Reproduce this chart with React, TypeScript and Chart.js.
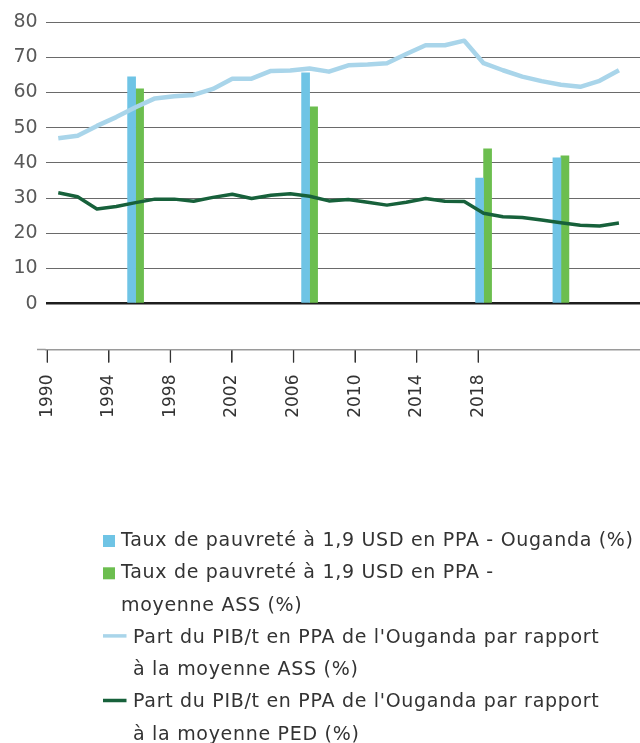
import React, { useEffect, useRef } from 'react';
import { Chart, registerables } from 'chart.js';

Chart.register(...registerables);

// ---------- data ----------
const years = [
  1990, 1991, 1992, 1993, 1994, 1995, 1996, 1997, 1998, 1999,
  2000, 2001, 2002, 2003, 2004, 2005, 2006, 2007, 2008, 2009,
  2010, 2011, 2012, 2013, 2014, 2015, 2016, 2017, 2018, 2019,
];
const pibShareAss = [
  47.0, 47.7, 50.5, 53.0, 55.8, 58.3, 58.9, 59.3, 61.0, 63.9,
  63.9, 66.1, 66.2, 66.8, 65.9, 67.7, 67.9, 68.3, 70.9, 73.4,
  73.4, 74.7, 68.3, 66.3, 64.5, 63.2, 62.2, 61.6, 63.3, 66.3,
];
const pibSharePed = [
  31.5, 30.4, 26.9, 27.6, 28.7, 29.7, 29.7, 29.1, 30.2, 31.1,
  29.9, 30.8, 31.2, 30.5, 29.2, 29.6, 28.8, 28.0, 28.8, 29.9,
  29.1, 29.0, 25.7, 24.7, 24.5, 23.8, 23.0, 22.3, 22.1, 22.9,
];
const barYears = [1994, 2003, 2012, 2016];
const povertyUganda = [64.4, 65.6, 35.7, 41.4];
const povertyAss = [61.0, 55.9, 44.0, 42.0];
const xTickYears = [1990, 1994, 1998, 2002, 2006, 2010, 2014, 2018];

const labelUganda = 'Taux de pauvreté à 1,9 USD en PPA - Ouganda (%)';
const labelAss = 'Taux de pauvreté à 1,9 USD en PPA - moyenne ASS (%)';
const labelPibAss = "Part du PIB/t en PPA de l'Ouganda par rapport à la moyenne ASS (%)";
const labelPibPed = "Part du PIB/t en PPA de l'Ouganda par rapport à la moyenne PED (%)";

const legendLines = [
  ['Taux de pauvreté à 1,9 USD en PPA - Ouganda (%)'],
  ['Taux de pauvreté à 1,9 USD en PPA -', 'moyenne ASS (%)'],
  ["Part du PIB/t en PPA de l'Ouganda par rapport", 'à la moyenne ASS (%)'],
  ["Part du PIB/t en PPA de l'Ouganda par rapport", 'à la moyenne PED (%)'],
];

// ---------- styles ----------
const W = 640;
const H = 743;
const FONT = "'DejaVu Sans', sans-serif";
const BLUE = '#6fc4e5';
const GREEN = '#6cbe4f';
const LIGHT_BLUE = '#a9d5ea';
const DARK_GREEN = '#17613b';
const TICK_LEN = 13;

const legendPlugin = {
  id: 'customLegend',
  afterDraw(chart: any) {
    const ctx = chart.ctx as any;
    const area = chart.chartArea;
    ctx.save();
    // extend bottom axis line slightly to the left
    ctx.strokeStyle = '#9a9a9a';
    ctx.lineWidth = 1.5;
    ctx.beginPath();
    ctx.moveTo(37, area.bottom);
    ctx.lineTo(area.left, area.bottom);
    ctx.stroke();

    // tick marks of the bottom year axis
    const xs = chart.scales.x2;
    if (xs) {
      ctx.strokeStyle = '#333333';
      ctx.lineWidth = 1.3;
      xs.ticks.forEach((t: any) => {
        const px = xs.getPixelForValue(t.value);
        ctx.beginPath();
        ctx.moveTo(px, area.bottom + 0.75);
        ctx.lineTo(px, area.bottom + TICK_LEN);
        ctx.stroke();
      });
    }

    // legend
    const startY = 541;
    const step = 32.3;
    ctx.font = `19px ${FONT}`;
    try { ctx.letterSpacing = '0.7px'; } catch (e) { /* ignore */ }
    ctx.textBaseline = 'middle';
    ctx.textAlign = 'left';
    let row = 0;
    chart.data.datasets.forEach((ds: any, i: number) => {
      const lines = legendLines[i];
      const cy = startY + row * step;
      const isLine = ds.type === 'line';
      if (isLine) {
        ctx.strokeStyle = ds.borderColor;
        ctx.lineWidth = 3.5;
        ctx.lineCap = 'butt';
        ctx.beginPath();
        ctx.moveTo(103, cy - 2);
        ctx.lineTo(126.5, cy - 2);
        ctx.stroke();
      } else {
        ctx.fillStyle = ds.backgroundColor;
        ctx.fillRect(103, cy - 6, 12, 12);
      }
      ctx.fillStyle = '#333333';
      const tx = isLine ? 133 : 121;
      lines.forEach((t: string, k: number) => {
        ctx.fillText(t, tx, startY + (row + k) * step);
      });
      row += lines.length;
    });
    ctx.restore();
  },
};

export default function App() {
  const ref = useRef<HTMLCanvasElement | null>(null);

  useEffect(() => {
    if (!ref.current) return;
    const chart = new Chart(ref.current, {
      type: 'bar',
      data: {
        datasets: [
          {
            type: 'bar',
            label: labelUganda,
            data: barYears.map((x, i) => ({ x, y: povertyUganda[i] })),
            backgroundColor: BLUE,
            barThickness: 8,
            xAxisID: 'x',
            yAxisID: 'y',
            order: 2,
          },
          {
            type: 'bar',
            label: labelAss,
            data: barYears.map((x, i) => ({ x, y: povertyAss[i] })),
            backgroundColor: GREEN,
            barThickness: 8,
            xAxisID: 'x',
            yAxisID: 'y',
            order: 2,
          },
          {
            type: 'line',
            label: labelPibAss,
            data: years.map((x, i) => ({ x, y: pibShareAss[i] })),
            borderColor: LIGHT_BLUE,
            backgroundColor: LIGHT_BLUE,
            borderWidth: 4.5,
            pointRadius: 0,
            tension: 0,
            borderJoinStyle: 'round',
            xAxisID: 'x',
            yAxisID: 'y',
            order: 1,
          },
          {
            type: 'line',
            label: labelPibPed,
            data: years.map((x, i) => ({ x, y: pibSharePed[i] })),
            borderColor: DARK_GREEN,
            backgroundColor: DARK_GREEN,
            borderWidth: 3.5,
            pointRadius: 0,
            tension: 0,
            borderJoinStyle: 'round',
            xAxisID: 'x',
            yAxisID: 'y',
            order: 0,
          },
        ] as any,
      },
      options: {
        responsive: false,
        animation: false,
        devicePixelRatio: 1,
        layout: { padding: { top: 22, left: 0, right: 0, bottom: 0 } },
        plugins: {
          legend: { display: false },
          tooltip: { enabled: false },
          title: { display: false },
        },
        scales: {
          x: {
            type: 'linear',
            display: false,
            position: 'bottom',
            offset: false,
            min: 1989.35,
            max: 2020.09,
            grid: { offset: false },
          },
          x2: {
            type: 'linear',
            position: 'bottom',
            offset: false,
            min: 1989.896,
            max: 2028.51,
            afterBuildTicks: (axis: any) => {
              axis.ticks = xTickYears.map((v) => ({ value: v }));
            },
            afterFit: (axis: any) => {
              axis.height = H - 349.5;
            },
            grid: {
              display: true,
              offset: false,
              drawOnChartArea: false,
              drawTicks: true,
              tickLength: TICK_LEN,
              color: '#333333',
              lineWidth: 1,
            },
            border: { display: true, color: '#9a9a9a', width: 1.5 },
            ticks: {
              autoSkip: false,
              minRotation: 90,
              maxRotation: 90,
              padding: 12,
              color: '#333333',
              font: { family: FONT, size: 17 },
              callback: (v: any) => String(v),
            },
          },
          y: {
            type: 'linear',
            min: -13,
            max: 80,
            ticks: {
              stepSize: 10,
              padding: 8,
              color: '#595959',
              font: { family: FONT, size: 19 },
            },
            afterBuildTicks: (axis: any) => {
              axis.ticks = axis.ticks.filter((t: any) => t.value >= 0);
            },
            afterFit: (axis: any) => {
              axis.width = 45.7;
            },
            grid: {
              drawTicks: false,
              color: (c: any) => (c.tick && c.tick.value === 0 ? '#1e1e1e' : '#6a6a6a'),
              lineWidth: (c: any) => (c.tick && c.tick.value === 0 ? 2.5 : 1),
            },
            border: { display: false },
          },
        },
      } as any,
      plugins: [legendPlugin],
    });
    return () => chart.destroy();
  }, []);

  return (
    <div style={{ position: 'absolute', left: 0, top: 0, width: W, height: H, background: '#fff' }}>
      <canvas ref={ref} width={W} height={H} style={{ display: 'block', width: W, height: H }} />
    </div>
  );
}
